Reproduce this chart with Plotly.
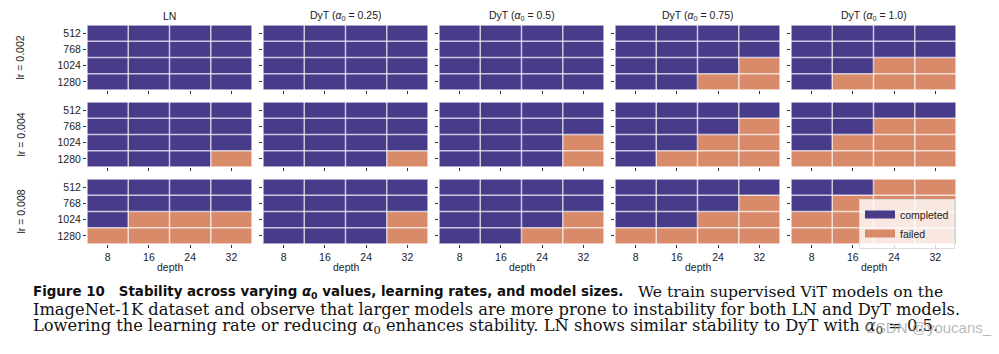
import plotly.graph_objects as go

# ---------------- data ----------------
depths = [8, 16, 24, 32]
widths = [512, 768, 1024, 1280]
methods = ["LN", "DyT (<i>α</i><sub>0</sub> = 0.25)", "DyT (<i>α</i><sub>0</sub> = 0.5)",
           "DyT (<i>α</i><sub>0</sub> = 0.75)", "DyT (<i>α</i><sub>0</sub> = 1.0)"]
lr_labels = ["lr = 0.002", "lr = 0.004", "lr = 0.008"]
status_labels = ["completed", "failed"]

# 1 = failed, 0 = completed ; rows = widths (512..1280), cols = depths (8..32)
failed_lr_0002 = [
    [[0, 0, 0, 0], [0, 0, 0, 0], [0, 0, 0, 0], [0, 0, 0, 0]],
    [[0, 0, 0, 0], [0, 0, 0, 0], [0, 0, 0, 0], [0, 0, 0, 0]],
    [[0, 0, 0, 0], [0, 0, 0, 0], [0, 0, 0, 0], [0, 0, 0, 0]],
    [[0, 0, 0, 0], [0, 0, 0, 0], [0, 0, 0, 1], [0, 0, 1, 1]],
    [[0, 0, 0, 0], [0, 0, 0, 0], [0, 0, 1, 1], [0, 1, 1, 1]],
]
failed_lr_0004 = [
    [[0, 0, 0, 0], [0, 0, 0, 0], [0, 0, 0, 0], [0, 0, 0, 1]],
    [[0, 0, 0, 0], [0, 0, 0, 0], [0, 0, 0, 0], [0, 0, 0, 1]],
    [[0, 0, 0, 0], [0, 0, 0, 0], [0, 0, 0, 1], [0, 0, 0, 1]],
    [[0, 0, 0, 0], [0, 0, 0, 1], [0, 0, 1, 1], [0, 1, 1, 1]],
    [[0, 0, 0, 0], [0, 0, 1, 1], [0, 1, 1, 1], [1, 1, 1, 1]],
]
failed_lr_0008 = [
    [[0, 0, 0, 0], [0, 0, 0, 0], [0, 1, 1, 1], [1, 1, 1, 1]],
    [[0, 0, 0, 0], [0, 0, 0, 0], [0, 0, 0, 1], [0, 0, 0, 1]],
    [[0, 0, 0, 0], [0, 0, 0, 0], [0, 0, 0, 1], [0, 0, 1, 1]],
    [[0, 0, 0, 0], [0, 0, 0, 1], [0, 0, 1, 1], [1, 1, 1, 1]],
    [[0, 0, 1, 1], [0, 1, 1, 1], [1, 1, 1, 1], [1, 1, 1, 1]],
]
failed_by_lr = [failed_lr_0002, failed_lr_0004, failed_lr_0008]

caption_bold = "Figure 10\u00a0\u00a0 Stability across varying <i>α</i><sub>0</sub> values, learning rates, and model sizes."
caption_l1 = "We train supervised ViT models on the"
caption_l2 = "ImageNet-1K dataset and observe that larger models are more prone to instability for both LN and DyT models."
caption_l3 = "Lowering the learning rate or reducing <i>α</i><sub>0</sub> enhances stability. LN shows similar stability to DyT with <i>α</i><sub>0</sub> = 0.5."

# ---------------- style ----------------
W, H = 999, 354
PURPLE = "#483c8a"
ORANGE = "#d98a69"
GRID = "rgba(255,255,255,0.72)"
TXT = "#222222"
SANS = "Liberation Sans, Arial, sans-serif"
x_starts = [87, 263, 439, 615, 791]
panel_w = 165
y_tops = [25, 102, 179]
panel_h = 65

fig = go.Figure()
shapes = []
annotations = []
xcats = [str(d) for d in depths]
ycats = [str(w) for w in widths]

for r, grids in enumerate(failed_by_lr):
    for c, grid in enumerate(grids):
        n = r * 5 + c + 1
        xa = "x" if n == 1 else f"x{n}"
        ya = "y" if n == 1 else f"y{n}"
        fig.add_trace(go.Heatmap(
            z=grid, x=xcats, y=ycats, xaxis=xa, yaxis=ya,
            zmin=0, zmax=1, showscale=False, hoverinfo="skip",
            colorscale=[[0, PURPLE], [0.5, PURPLE], [0.5, ORANGE], [1, ORANGE]],
        ))
        x0 = x_starts[c] / W
        x1 = (x_starts[c] + panel_w) / W
        y1 = 1 - y_tops[r] / H
        y0 = 1 - (y_tops[r] + panel_h) / H
        xkey = "xaxis" if n == 1 else f"xaxis{n}"
        ykey = "yaxis" if n == 1 else f"yaxis{n}"
        fig.layout[xkey] = dict(
            domain=[x0, x1], anchor=ya, type="category", range=[-0.5, len(depths) - 0.5],
            showgrid=False, zeroline=False, showline=False,
            ticks="outside", ticklen=3, tickwidth=1, tickcolor="#333",
            showticklabels=(r == 2), tickfont=dict(family=SANS, size=10.5, color=TXT),
        )
        fig.layout[ykey] = dict(
            domain=[y0, y1], anchor=xa, type="category", range=[len(widths) - 0.5, -0.5],
            showgrid=False, zeroline=False, showline=False,
            ticks="outside", ticklen=3, tickwidth=1, tickcolor="#333",
            showticklabels=(c == 0), tickfont=dict(family=SANS, size=10.5, color=TXT),
        )
        # cell separators (semi-transparent white)
        for k in range(len(depths) - 1):
            shapes.append(dict(type="line", xref=xa, yref=ya, x0=k + 0.5, x1=k + 0.5,
                               y0=-0.5, y1=len(widths) - 0.5, line=dict(color=GRID, width=1.5)))
        for k in range(len(widths) - 1):
            shapes.append(dict(type="line", xref=xa, yref=ya, y0=k + 0.5, y1=k + 0.5,
                               x0=-0.5, x1=len(depths) - 0.5, line=dict(color=GRID, width=1.5)))
        shapes.append(dict(type="rect", xref=xa, yref=ya, x0=-0.5, x1=len(depths) - 0.5,
                           y0=-0.5, y1=len(widths) - 0.5, line=dict(color=GRID, width=1.5)))

# column titles
for c, m in enumerate(methods):
    annotations.append(dict(text=m, xref="paper", yref="paper",
                            x=(x_starts[c] + panel_w / 2) / W, y=1 - 16 / H,
                            xanchor="center", yanchor="middle", showarrow=False,
                            font=dict(family=SANS, size=10.5, color=TXT)))
    annotations.append(dict(text="depth", xref="paper", yref="paper",
                            x=(x_starts[c] + panel_w / 2) / W, y=1 - 267 / H,
                            xanchor="center", yanchor="middle", showarrow=False,
                            font=dict(family=SANS, size=10.5, color=TXT)))
# row titles
for r, lab in enumerate(lr_labels):
    annotations.append(dict(text=lab, xref="paper", yref="paper", textangle=-90,
                            x=20 / W, y=1 - (y_tops[r] + panel_h / 2) / H,
                            xanchor="center", yanchor="middle", showarrow=False,
                            font=dict(family=SANS, size=10.5, color=TXT)))

# legend entries
for lab, col in zip(status_labels, [PURPLE, ORANGE]):
    fig.add_trace(go.Scatter(x=[None], y=[None], mode="lines", name=lab,
                             xaxis="x15", yaxis="y15",
                             line=dict(color=col, width=8), showlegend=True))

# caption
SERIF = "DejaVu Serif, serif"
BOLD = "DejaVu Sans, sans-serif"
cap_rows = [292, 309, 326]
annotations.append(dict(text=f"<b>{caption_bold}</b>", xref="paper", yref="paper",
                        x=31 / W, y=1 - cap_rows[0] / H, xanchor="left", yanchor="middle",
                        showarrow=False, font=dict(family=BOLD, size=13.4, color="#111")))
annotations.append(dict(text=caption_l1, xref="paper", yref="paper",
                        x=636 / W, y=1 - cap_rows[0] / H, xanchor="left", yanchor="middle",
                        showarrow=False, font=dict(family=SERIF, size=15.6, color="#111")))
annotations.append(dict(text=caption_l2, xref="paper", yref="paper",
                        x=31 / W, y=1 - cap_rows[1] / H, xanchor="left", yanchor="middle",
                        showarrow=False, font=dict(family=SERIF, size=16.3, color="#111")))
annotations.append(dict(text=caption_l3, xref="paper", yref="paper",
                        x=31 / W, y=1 - cap_rows[2] / H, xanchor="left", yanchor="middle",
                        showarrow=False, font=dict(family=SERIF, size=16.3, color="#111")))
annotations.append(dict(text="CSDN @youcans_", xref="paper", yref="paper",
                        x=994 / W, y=1 - 327 / H, xanchor="right", yanchor="middle",
                        showarrow=False, font=dict(family=SANS, size=15, color="rgba(160,160,160,0.75)")))

fig.update_layout(
    width=W, height=H, margin=dict(l=0, r=0, t=0, b=0),
    paper_bgcolor="white", plot_bgcolor="white",
    shapes=shapes, annotations=annotations,
    showlegend=True,
    legend=dict(x=859 / W, y=1 - 199 / H, xanchor="left", yanchor="top",
                bgcolor="rgba(255,255,255,0.8)", bordercolor="#dddddd", borderwidth=1,
                font=dict(family=SANS, size=10.5, color=TXT),
                itemwidth=30, tracegroupgap=0),
)

fig.write_html("out.html")
